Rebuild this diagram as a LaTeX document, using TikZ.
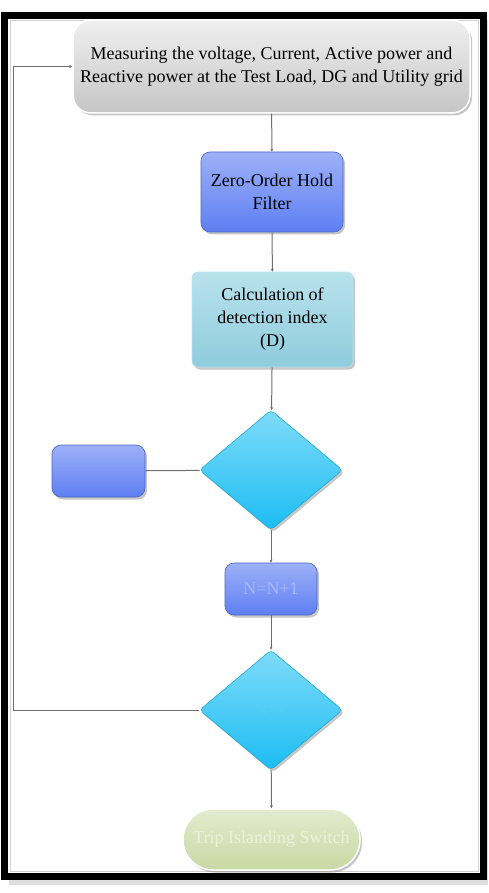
\documentclass[tikz,border=0pt]{standalone}
\usepackage{fontspec}
\setmainfont{Liberation Serif}
\usetikzlibrary{shapes.geometric,shadows,arrows.meta}
\definecolor{boxblue}{HTML}{5E7FF2}
\definecolor{boxbluelt}{HTML}{9DB1F8}
\definecolor{dicyan}{HTML}{1CBDF2}
\definecolor{dicyanlt}{HTML}{7FDBFA}
\definecolor{calcteal}{HTML}{8FCCDD}
\definecolor{calctealt}{HTML}{B8E2EC}
\definecolor{tripgreen}{HTML}{C9D8A4}
\definecolor{tripgreenlt}{HTML}{E3EBCD}
\definecolor{linegray}{HTML}{6E6E6E}
\tikzset{
  shade box/.style={draw=#1!80!black, line width=0.6pt, drop shadow={shadow xshift=2pt,shadow yshift=-2.5pt,opacity=0.45}},
  measbox/.style={shade box=gray, draw=white, line width=1.5pt, rounded corners=18pt, top color=gray!12, bottom color=gray!45,
    minimum width=397pt, minimum height=93pt, align=center, font=\fontsize{18}{23}\selectfont},
  bluebox/.style={shade box=boxblue, rounded corners=9pt, top color=boxbluelt, bottom color=boxblue,
    align=center, font=\fontsize{18}{23}\selectfont},
  calcbox/.style={shade box=calcteal, draw=calctealt, rounded corners=6pt, top color=calctealt, bottom color=calcteal,
    minimum width=161pt, minimum height=95pt, align=center, font=\fontsize{18}{23}\selectfont},
  decision/.style={shade box=dicyan, draw=dicyan!90!black, diamond, rounded corners=4pt, top color=dicyanlt, bottom color=dicyan,
    minimum width=143pt, minimum height=120pt, inner sep=0pt, font=\fontsize{14}{16}\selectfont},
  tripbox/.style={shade box=tripgreen, draw=white, line width=1.5pt, rounded corners=30pt, top color=tripgreenlt, bottom color=tripgreen,
    minimum width=177pt, minimum height=61pt, font=\fontsize{18}{20}\selectfont},
  flow/.style={draw=linegray, line width=1pt, -{Stealth[length=3pt,width=3pt]}},
  link/.style={draw=linegray, line width=1pt}
}
\begin{document}
\begin{tikzpicture}[x=1pt,y=-1pt]
   \useasboundingbox (0,0) rectangle (489,893);
   \fill[gray!25] (9,880) rectangle (488,885);
   \fill[gray!25] (487,20) rectangle (488,885);
   \draw[gray!35, line width=1pt] (10,21) rectangle (478,871);
   \draw[line width=7pt] (4,15.5) rectangle (483.5,876.5);

   \node[measbox] (meas) at (271.5,66.5) {Measuring the voltage, Current, Active power and\\Reactive power at the Test Load, DG and Utility grid};
   \node[bluebox, minimum width=142pt, minimum height=80pt] (zoh) at (272,192) {Zero-Order Hold\\Filter};
   \node[calcbox] (calc) at (272.5,319.5) {Calculation of\\detection index\\(D)};
   \node[decision] (check) at (271,470) {};
   \node[bluebox, minimum width=93pt, minimum height=52pt] (alarm) at (98.5,471) {};
   \node[bluebox, minimum width=92pt, minimum height=52pt, text=boxbluelt!90!white] (count) at (271,589) {N=N+1};
   \node[decision, text=dicyanlt!60!dicyan] (limit) at (271,710) {N>N};
   \node[tripbox, text=tripgreenlt!70!white] (trip) at (271.5,839.5) {Trip Islanding Switch};
   \coordinate (loop) at (13,0);

   \draw[flow] (meas) -- (zoh);
   \draw[flow] (zoh) -- (calc);
   \draw[flow] (calc) -- (check);
   \draw[link] (check) -- (alarm);
   \draw[flow] (check) -- (count);
   \draw[flow] (count) -- (limit);
   \draw[flow] (limit) -- (trip);
   \draw[flow] (limit.west) -| (loop |- meas.west) -- (meas.west);
\end{tikzpicture}
\end{document}
